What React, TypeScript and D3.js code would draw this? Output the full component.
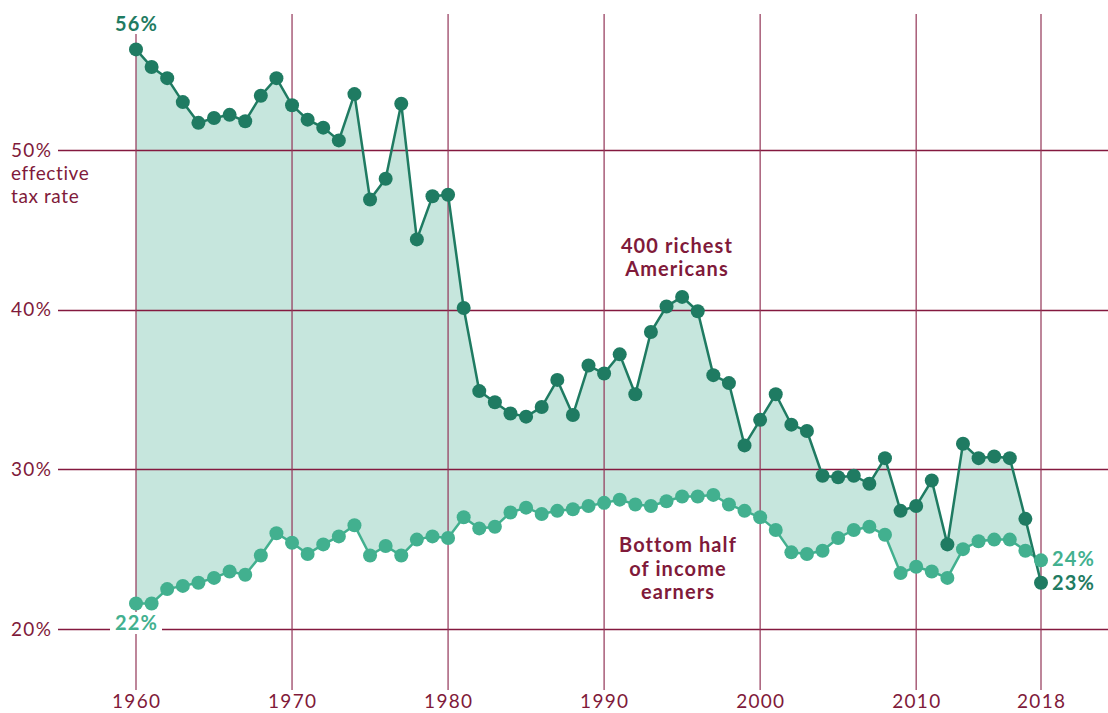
import React from "react";
import * as d3 from "d3";

const YEARS = d3.range(1960, 2019);

// 400 richest Americans, effective tax rate (%)
const RICHEST = [
  56.3, 55.2, 54.5, 53.0, 51.7, 52.0, 52.2, 51.8, 53.4, 54.5,
  52.8, 51.9, 51.4, 50.6, 53.5, 46.9, 48.2, 52.9, 44.4, 47.1,
  47.2, 40.1, 34.9, 34.2, 33.5, 33.3, 33.9, 35.6, 33.4, 36.5,
  36.0, 37.2, 34.7, 38.6, 40.2, 40.8, 39.9, 35.9, 35.4, 31.5,
  33.1, 34.7, 32.8, 32.4, 29.6, 29.5, 29.6, 29.1, 30.7, 27.4,
  27.7, 29.3, 25.3, 31.6, 30.7, 30.8, 30.7, 26.9, 22.9,
];

// Bottom half of income earners (%)
const BOTTOM = [
  21.6, 21.6, 22.5, 22.7, 22.9, 23.2, 23.6, 23.4, 24.6, 26.0,
  25.4, 24.7, 25.3, 25.8, 26.5, 24.6, 25.2, 24.6, 25.6, 25.8,
  25.7, 27.0, 26.3, 26.4, 27.3, 27.6, 27.2, 27.4, 27.5, 27.7,
  27.9, 28.1, 27.8, 27.7, 28.0, 28.3, 28.3, 28.4, 27.8, 27.4,
  27.0, 26.2, 24.8, 24.7, 24.9, 25.7, 26.2, 26.4, 25.9, 23.5,
  23.9, 23.6, 23.2, 25.0, 25.5, 25.6, 25.6, 24.9, 24.3,
];

const X_TICKS = [1960, 1970, 1980, 1990, 2000, 2010, 2018];
const Y_TICKS = [20, 30, 40, 50];

const DARK = "#1f7b62";
const LIGHT = "#42b08f";
const FILL = "#c6e6dd";
const MAROON = "#801a3a";
const GRID = "#84193f";
const VGRID = "#923457";
const FONT = "Lato, 'Open Sans', sans-serif";

const W = 1108;
const H = 713;

export default function App() {
  const x = d3.scaleLinear().domain([1960, 2018]).range([136, 1041]);
  const y = d3.scaleLinear().domain([20, 50]).range([629, 150]);

  const rows = YEARS.map((yr, i) => ({ yr, hi: RICHEST[i], lo: BOTTOM[i] }));

  const area = d3
    .area<{ yr: number; hi: number; lo: number }>()
    .x((d) => x(d.yr))
    .y0((d) => y(d.lo))
    .y1((d) => y(d.hi));

  const line = d3
    .line<number>()
    .x((_, i) => x(YEARS[i]))
    .y((d) => y(d));

  const last = YEARS.length - 1;
  const tickSpacing = 1.3;
  const boldSpacing = 1.1;

  return (
    <svg
      width={W}
      height={H}
      style={{ position: "absolute", left: 0, top: 0, background: "#fff" }}
      fontFamily={FONT}
    >
      <path d={area(rows) ?? ""} fill={FILL} />

      {/* horizontal grid */}
      {Y_TICKS.map((t) => (
        <line
          key={t}
          x1={58}
          x2={W}
          y1={Math.round(y(t)) + 0.5}
          y2={Math.round(y(t)) + 0.5}
          stroke={GRID}
          strokeWidth={1.4}
        />
      ))}

      {/* vertical grid */}
      {X_TICKS.map((t) => (
        <line
          key={t}
          x1={x(t)}
          x2={x(t)}
          y1={14}
          y2={690}
          stroke={VGRID}
          strokeWidth={1.2}
        />
      ))}

      {/* y labels */}
      <g fontSize={19} fill={MAROON} letterSpacing={tickSpacing}>
        {Y_TICKS.map((t) => (
          <text key={t} x={11} y={y(t)} dy="0.35em">
            {t}%
          </text>
        ))}
        <text x={11} y={173} dy="0.35em" letterSpacing={0.6}>
          effective
        </text>
        <text x={11} y={196} dy="0.35em" letterSpacing={0.6}>
          tax rate
        </text>
      </g>

      {/* x labels */}
      <g fontSize={19} fill={MAROON} letterSpacing={tickSpacing} textAnchor="middle">
        {X_TICKS.map((t) => (
          <text key={t} x={x(t) + tickSpacing / 2} y={701} dy="0.35em">
            {t}
          </text>
        ))}
      </g>

      {/* series */}
      <path d={line(BOTTOM) ?? ""} fill="none" stroke={LIGHT} strokeWidth={2.5} />
      <path d={line(RICHEST) ?? ""} fill="none" stroke={DARK} strokeWidth={2.5} />
      {BOTTOM.map((v, i) => (
        <circle key={"b" + i} cx={x(YEARS[i])} cy={y(v)} r={7} fill={LIGHT} />
      ))}
      {RICHEST.map((v, i) => (
        <circle key={"r" + i} cx={x(YEARS[i])} cy={y(v)} r={7} fill={DARK} />
      ))}

      {/* end labels */}
      <g fontSize={20} fontWeight={700} letterSpacing={boldSpacing}>
        <rect x={x(1960) - 25} y={14} width={50} height={20} fill="#fff" />
        <text x={x(1960) + boldSpacing / 2} y={24} dy="0.35em" textAnchor="middle" fill={DARK}>
          {Math.round(RICHEST[0])}%
        </text>
        <rect x={x(1960) - 26} y={612} width={52} height={22} fill="#fff" />
        <text x={x(1960) + boldSpacing / 2} y={623} dy="0.35em" textAnchor="middle" fill={LIGHT}>
          {Math.round(BOTTOM[0])}%
        </text>
        <text x={x(2018) + 11} y={559} dy="0.35em" fill={LIGHT}>
          {Math.round(BOTTOM[last])}%
        </text>
        <text x={x(2018) + 11} y={583} dy="0.35em" fill={DARK}>
          {Math.round(RICHEST[last])}%
        </text>
      </g>

      {/* series annotations */}
      <g fontSize={20} fontWeight={700} fill={MAROON} textAnchor="middle" letterSpacing={boldSpacing}>
        <text x={677} y={246} dy="0.35em">400 richest</text>
        <text x={677} y={269} dy="0.35em">Americans</text>
        <text x={678} y={545} dy="0.35em">Bottom half</text>
        <text x={678} y={569} dy="0.35em">of income</text>
        <text x={678} y={592} dy="0.35em">earners</text>
      </g>
    </svg>
  );
}
